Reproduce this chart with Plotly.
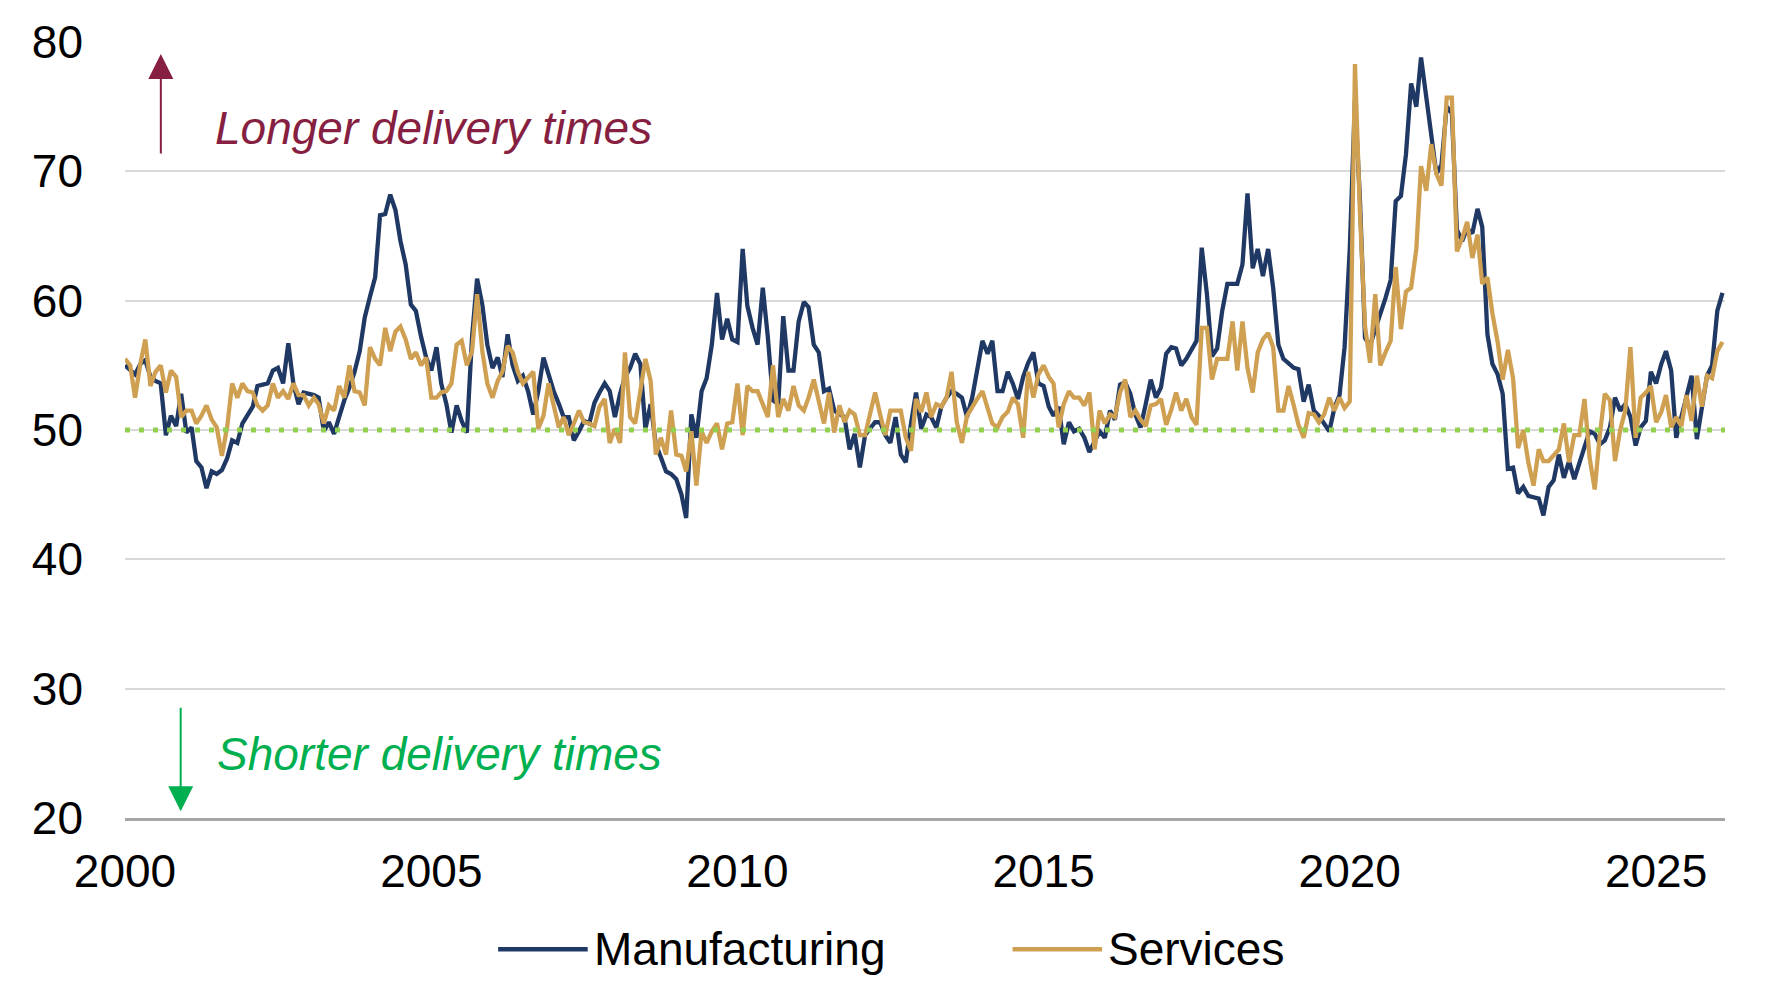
import pandas as pd
import plotly.graph_objects as go

# %%
# Supplier delivery indices, monthly from Jan 2000 (one row per year)
manufacturing = [
    55.0, 54.6, 54.3, 55.1, 55.4, 54.1, 53.8, 53.6, 49.6, 51.1, 50.3, 52.8,  # 2000
    49.8, 50.2, 47.6, 47.1, 45.5, 46.8, 46.6, 46.9, 47.8, 49.2, 49.0, 50.5,  # 2001
    51.2, 51.8, 53.4, 53.5, 53.6, 54.6, 54.8, 53.6, 56.7, 53.6, 52.0, 52.9,  # 2002
    52.8, 52.7, 52.5, 49.9, 50.6, 49.7, 51.0, 52.3, 53.3, 54.5, 56.1, 58.7,  # 2003
    60.3, 61.8, 66.6, 66.7, 68.2, 67.0, 64.6, 62.8, 59.7, 59.2, 57.2, 55.6,  # 2004
    54.6, 56.4, 53.6, 52.0, 49.8, 51.9, 50.7, 49.8, 57.2, 61.7, 59.7, 56.6,  # 2005
    54.8, 55.6, 54.1, 57.4, 55.0, 53.8, 54.2, 53.0, 51.2, 53.0, 55.6, 54.3,  # 2006
    53.0, 52.0, 51.0, 51.0, 49.2, 49.9, 50.7, 50.5, 52.1, 52.9, 53.6, 53.0,  # 2007
    51.0, 52.8, 54.1, 54.8, 55.9, 55.1, 50.1, 52.0, 48.9, 47.9, 46.8, 46.6,  # 2008
    46.2, 45.0, 43.2, 51.2, 49.4, 53.0, 54.0, 56.6, 60.6, 57.0, 58.6, 57.0,  # 2009
    56.8, 64.0, 59.6, 57.9, 56.6, 61.0, 57.2, 52.3, 52.0, 58.8, 54.6, 54.6,  # 2010
    58.4, 59.9, 59.5, 56.6, 56.0, 53.0, 53.2, 51.5, 51.2, 51.0, 48.5, 49.7,  # 2011
    47.1, 49.6, 50.1, 50.6, 50.6, 49.6, 49.0, 51.0, 48.1, 47.5, 50.5, 52.9,  # 2012
    50.1, 51.2, 51.0, 50.2, 51.8, 52.5, 53.0, 52.8, 52.5, 51.0, 52.5, 54.6,  # 2013
    56.9, 55.9, 56.9, 53.0, 53.0, 54.5, 53.6, 52.4, 54.1, 55.2, 56.0, 53.6,  # 2014
    53.4, 51.8, 51.1, 51.8, 48.9, 50.6, 49.9, 50.1, 49.4, 48.3, 49.2, 49.9,  # 2015
    49.4, 51.5, 50.8, 53.5, 53.7, 52.8, 51.2, 50.2, 52.0, 53.9, 52.5, 53.3,  # 2016
    55.9, 56.4, 56.3, 55.0, 55.5, 56.3, 56.9, 64.1, 60.5, 55.7, 56.3, 59.2,  # 2017
    61.3, 61.3, 61.3, 62.8, 68.3, 62.5, 64.0, 61.9, 64.0, 61.0, 56.6, 55.5,  # 2018
    55.2, 54.8, 54.7, 52.2, 53.5, 51.5, 51.1, 50.5, 49.9, 51.7, 52.7, 56.4,  # 2019
    64.0, 75.5, 68.0, 57.1, 56.5, 57.8, 58.9, 60.2, 61.6, 67.7, 68.1, 71.3,  # 2020
    76.8, 75.0, 78.8, 75.7, 73.2, 69.8, 70.5, 75.0, 74.5, 65.5, 64.6, 65.6,  # 2021
    65.2, 67.1, 65.7, 57.4, 55.1, 54.3, 52.8, 47.0, 47.1, 45.1, 45.6, 44.9,  # 2022
    44.8, 44.7, 43.4, 45.6, 46.1, 48.1, 46.3, 47.6, 46.2, 47.4, 48.9, 49.9,  # 2023
    49.7, 48.9, 49.2, 50.2, 52.5, 51.5, 52.0, 51.0, 48.8, 50.2, 50.7, 54.5,  # 2024
    53.6, 55.1, 56.1, 54.6, 49.4, 51.0, 52.3, 54.2, 49.3, 51.6, 54.2, 55.0,  # 2025
    59.2, 60.6,                                                              # 2026
]

services = [
    55.5, 55.0, 52.5, 55.1, 57.0, 53.4, 54.5, 55.0, 52.9, 54.6, 54.1, 51.0,  # 2000
    51.5, 51.5, 50.5, 51.1, 51.9, 50.8, 50.2, 48.0, 50.2, 53.6, 52.5, 53.6,  # 2001
    53.0, 52.9, 51.9, 51.5, 51.9, 53.6, 52.5, 53.0, 52.4, 53.6, 52.7, 52.7,  # 2002
    51.9, 52.5, 52.0, 50.5, 51.9, 51.5, 53.4, 52.5, 55.0, 53.0, 52.9, 51.9,  # 2003
    56.4, 55.5, 55.0, 57.9, 56.1, 57.6, 58.0, 57.0, 55.5, 56.0, 55.0, 55.6,  # 2004
    52.5, 52.5, 52.9, 53.0, 53.6, 56.6, 56.9, 55.0, 56.1, 60.5, 56.1, 53.6,  # 2005
    52.5, 53.8, 54.5, 56.5, 56.0, 54.5, 53.6, 54.1, 54.5, 50.1, 51.1, 53.6,  # 2006
    52.0, 50.2, 51.0, 49.6, 50.5, 51.5, 50.6, 50.5, 50.3, 51.8, 52.4, 49.0,  # 2007
    50.1, 49.0, 56.0, 51.0, 50.5, 53.0, 55.5, 53.8, 48.1, 49.4, 48.1, 51.5,  # 2008
    48.1, 48.0, 46.8, 49.9, 45.7, 49.9, 49.0, 49.9, 50.5, 48.5, 50.5, 50.6,  # 2009
    53.6, 49.6, 53.4, 53.0, 53.0, 52.0, 51.0, 55.0, 51.0, 52.4, 51.5, 53.4,  # 2010
    51.9, 51.5, 52.5, 53.9, 52.3, 50.5, 52.9, 49.8, 51.9, 50.6, 51.5, 51.2,  # 2011
    49.6, 49.6, 51.2, 52.9, 51.2, 49.6, 51.5, 51.5, 51.5, 49.4, 48.4, 52.4,  # 2012
    51.4, 52.9, 51.0, 52.0, 51.8, 52.5, 54.5, 50.6, 49.0, 51.1, 51.8, 52.4,  # 2013
    53.0, 51.8, 50.5, 50.2, 51.0, 51.4, 52.5, 52.0, 49.4, 54.5, 52.5, 54.3,  # 2014
    55.0, 54.1, 53.6, 50.2, 52.0, 53.0, 52.5, 52.5, 51.9, 52.9, 48.5, 51.5,  # 2015
    50.5, 51.2, 51.0, 52.9, 53.9, 51.0, 51.5, 50.8, 50.3, 51.9, 52.0, 52.4,  # 2016
    50.4, 51.6, 52.9, 51.5, 52.4, 51.0, 50.4, 57.9, 57.9, 53.9, 55.5, 55.5,  # 2017
    55.5, 58.4, 54.6, 58.4, 54.8, 52.9, 56.0, 57.0, 57.5, 56.4, 51.5, 51.5,  # 2018
    53.4, 51.9, 50.4, 49.4, 51.3, 51.2, 50.6, 51.2, 52.5, 51.5, 52.5, 51.7,  # 2019
    52.2, 78.3, 67.0, 58.0, 55.2, 60.5, 55.0, 56.0, 56.9, 62.6, 57.8, 60.7,  # 2020
    61.0, 64.0, 70.4, 68.5, 72.1, 69.8, 68.9, 75.7, 75.7, 63.8, 64.8, 66.1,  # 2021
    63.3, 65.1, 61.3, 61.8, 59.0, 56.8, 53.9, 56.2, 54.0, 48.6, 50.0, 47.5,  # 2022
    45.7, 48.5, 47.6, 47.6, 48.1, 48.5, 50.5, 47.5, 49.6, 49.6, 52.4, 47.9,  # 2023
    45.4, 49.7, 52.8, 52.3, 47.6, 50.0, 51.5, 56.4, 49.4, 52.5, 52.9, 53.4,  # 2024
    50.6, 51.4, 52.7, 50.2, 51.0, 50.3, 52.7, 50.7, 54.2, 51.8, 54.2, 54.0,  # 2025
    56.1, 56.8,                                                              # 2026
]

series_names = ["Manufacturing", "Services"]
series_colors = ["#1F3864", "#CFA052"]
year_ticks = [2000, 2005, 2010, 2015, 2020, 2025]
y_ticks = [20, 30, 40, 50, 60, 70, 80]
neutral_level = 50

# %%
months = pd.date_range("2000-01-01", periods=len(manufacturing), freq="MS")
FONT = "Arial, Liberation Sans, sans-serif"
FSIZE = 46

fig = go.Figure()
# manufacturing goes first so services is drawn over it (like the original)
for name, values, color in zip(series_names, [manufacturing, services], series_colors):
    fig.add_trace(go.Scatter(
        x=months, y=values, name=name, mode="lines",
        line=dict(color=color, width=4.3),
        showlegend=False,
    ))

# 50 = no change in delivery times
fig.add_shape(type="line", xref="paper", yref="y", x0=0, x1=1,
              y0=neutral_level, y1=neutral_level,
              line=dict(color="#92D050", width=5, dash="5px,9px"))

# the page body has an 8px margin, so the figure is a bit smaller than the window
# (automargin off, otherwise the big "80" label pushes the plot down)
fig.update_layout(
    width=1759, height=986,
    margin=dict(l=117, r=42, t=34, b=176),
    paper_bgcolor="white", plot_bgcolor="white",
    font=dict(family=FONT, size=FSIZE, color="black"),
    xaxis=dict(
        type="date",
        range=["2000-01-01", "2026-02-16"],
        tickvals=[f"{y}-01-01" for y in year_ticks],
        ticktext=[str(y) for y in year_ticks],
        showgrid=False, zeroline=False,
        showline=True, linecolor="#A6A6A6", linewidth=2.5,
        ticks="", ticklabelstandoff=11, automargin=False,
    ),
    yaxis=dict(
        range=[20, 80], tickvals=y_ticks,
        showgrid=True, gridcolor="#D9D9D9", gridwidth=1.5,
        zeroline=False, showline=False,
        ticks="", ticklabelstandoff=41, automargin=False,
    ),
)

# arrows + labels explaining the direction of the index
arrows = [
    dict(x=0.0224, y=0.9845, ay=101, color="#861F41"),
    dict(x=0.0348, y=0.0088, ay=-105, color="#00B050"),
]
for a in arrows:
    fig.add_annotation(x=a["x"], y=a["y"], xref="paper", yref="paper", text="",
                       showarrow=True, ax=0, ay=a["ay"], arrowhead=2,
                       arrowwidth=2, arrowsize=2.5, arrowcolor=a["color"], standoff=0)

fig.add_annotation(x=0.0547, y=0.8892, xref="paper", yref="paper",
                   text="<i>Longer delivery times</i>", showarrow=False,
                   xanchor="left", yanchor="middle",
                   font=dict(size=FSIZE, color="#861F41"))
fig.add_annotation(x=0.056, y=0.0831, xref="paper", yref="paper",
                   text="<i>Shorter delivery times</i>", showarrow=False,
                   xanchor="left", yanchor="middle",
                   font=dict(size=FSIZE, color="#00B050"))

# legend drawn by hand so the line samples are as long as in the original
legend_y = -0.169
legend_pos = [(0.2332, 0.2892, 0.2918), (0.5547, 0.6107, 0.6133)]
for name, color, (x0, x1, tx) in zip(series_names, series_colors, legend_pos):
    fig.add_shape(type="line", xref="paper", yref="paper", x0=x0, x1=x1,
                  y0=legend_y, y1=legend_y, line=dict(color=color, width=4.5))
    fig.add_annotation(x=tx, y=legend_y, xref="paper", yref="paper", text=name,
                       showarrow=False, xanchor="left", yanchor="middle",
                       font=dict(size=FSIZE, color="black"))

fig.write_html("out.html")
